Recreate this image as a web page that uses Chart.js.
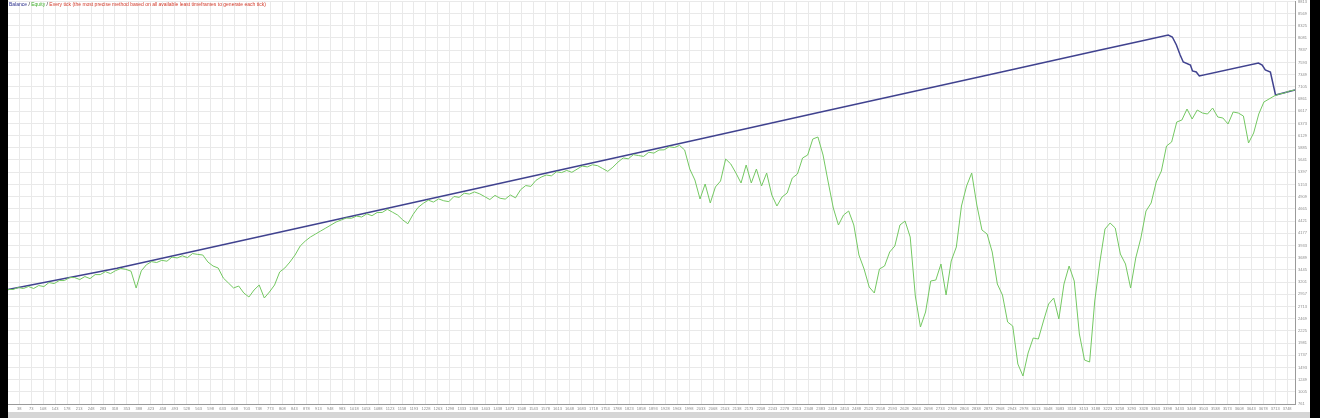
<!DOCTYPE html>
<html>
<head>
<meta charset="utf-8">
<title>Strategy tester graph</title>
<script src="https://cdn.jsdelivr.net/npm/chart.js@4.4.1/dist/chart.umd.min.js"></script>
<style>
    html, body { margin: 0; padding: 0; background: #000; overflow: hidden; }
    #wrap { position: absolute; left: 8px; top: 0; width: 1302px; height: 418px; background: #fff; }
    #strip { position: absolute; left: 0; top: 412px; width: 1302px; height: 6px; background: #d6d6d6; }
    #graph { position: absolute; left: 0; top: 0; }
    #legend { position: absolute; left: 1px; top: 1px; font: 5px "Liberation Sans", Arial, sans-serif; white-space: nowrap; }
    #legend .bal { color: #2b2f8c; }
    #legend .eq { color: #3fae2a; }
    #legend .mod { color: #d23a2a; }
</style>
</head>
<body>
<div id="wrap">
    <canvas id="graph" width="1302" height="412"></canvas>
    <div id="legend"><span class="bal">Balance</span> / <span class="eq">Equity</span> / <span class="mod">Every tick (the most precise method based on all available least timeframes to generate each tick)</span></div>
    <div id="strip"></div>
</div>
<script>
// --- Data ---
// trade numbers shown under the chart
const xTicks = [
    38, 73, 108, 143, 178, 213, 248, 283, 318, 353,
    388, 423, 458, 493, 528, 563, 598, 633, 668, 703,
    738, 773, 808, 843, 878, 913, 948, 983, 1018, 1053,
    1088, 1123, 1158, 1193, 1228, 1263, 1298, 1333, 1368, 1403,
    1438, 1473, 1508, 1543, 1578, 1613, 1648, 1683, 1718, 1753,
    1788, 1823, 1858, 1893, 1928, 1963, 1998, 2033, 2068, 2103,
    2138, 2173, 2208, 2243, 2278, 2313, 2348, 2383, 2418, 2453,
    2488, 2523, 2558, 2593, 2628, 2663, 2698, 2733, 2768, 2803,
    2838, 2873, 2908, 2943, 2978, 3013, 3048, 3083, 3118, 3153,
    3188, 3223, 3258, 3293, 3328, 3363, 3398, 3433, 3468, 3503,
    3538, 3573, 3608, 3643, 3678, 3713, 3748
];

// money levels on the right side
const yTicks = [
    761, 1005, 1249, 1493, 1737, 1981, 2225, 2469, 2713, 2957,
    3201, 3445, 3689, 3933, 4177, 4421, 4665, 4909, 5153, 5397,
    5641, 5885, 6129, 6373, 6617, 6861, 7105, 7349, 7593, 7837,
    8081, 8325, 8569, 8813
];

// balance (closed trades)
const balanceTrades = [5, 324, 1152, 2030, 2367, 2909, 3201, 3318, 3400, 3412, 3424, 3435, 3444, 3465, 3471, 3482, 3491, 3664, 3675, 3684, 3699, 3714, 3771];
const balanceValues = [3051, 3475, 4731, 6063, 6575, 7397, 7839, 8017, 8141, 8101, 7941, 7741, 7601, 7541, 7421, 7401, 7321, 7581, 7541, 7441, 7401, 6941, 7041];

// equity, one reading every 15 trades starting at trade 5
const equityStart = 5;
const equityStep = 15;
const equityValues = [
    3051, 3051, 3091, 3071, 3111, 3071, 3130, 3110, 3190, 3170,
    3230, 3230, 3290, 3290, 3250, 3310, 3269, 3349, 3349, 3409,
    3369, 3429, 3472, 3454, 3417, 3080, 3423, 3546, 3608, 3591,
    3634, 3617, 3699, 3682, 3725, 3688, 3770, 3753, 3741, 3601,
    3521, 3481, 3281, 3181, 3081, 3121, 2981, 2901, 3041, 3141,
    2881, 3001, 3141, 3401, 3481, 3601, 3741, 3921, 4021, 4101,
    4161, 4221, 4281, 4341, 4401, 4441, 4481, 4476, 4519, 4501,
    4564, 4527, 4590, 4592, 4655, 4598, 4541, 4443, 4366, 4549,
    4692, 4774, 4837, 4800, 4863, 4826, 4808, 4911, 4894, 4977,
    4959, 5002, 4965, 4908, 4850, 4933, 4876, 4859, 4941, 4884,
    5047, 5130, 5113, 5235, 5298, 5341, 5324, 5406, 5389, 5432,
    5395, 5457, 5520, 5503, 5546, 5528, 5471, 5414, 5497, 5599,
    5682, 5665, 5748, 5730, 5713, 5796, 5779, 5841, 5844, 5907,
    5890, 5933, 5841, 5461, 5241, 4861, 5161, 4781, 5101, 5221,
    5661, 5561, 5381, 5181, 5541, 5181, 5461, 5121, 5381, 4941,
    4721, 4901, 4981, 5281, 5361, 5681, 5741, 6061, 6101, 5741,
    5201, 4681, 4341, 4541, 4621, 4341, 3741, 3461, 3101, 2981,
    3461, 3521, 3801, 3921, 4341, 4421, 4101, 2921, 2301, 2601,
    3221, 3241, 3561, 2941, 3621, 3901, 4721, 5121, 5381, 4741,
    4241, 4161, 3801, 3161, 2941, 2401, 2321, 1561, 1321, 1781,
    2081, 2061, 2421, 2761, 2881, 2461, 3161, 3521, 3221, 2161,
    1641, 1601, 2821, 3601, 4261, 4381, 4281, 3761, 3561, 3081,
    3681, 4081, 4621, 4781, 5201, 5421, 5921, 6001, 6401, 6441,
    6661, 6461, 6641, 6581, 6561, 6681, 6501, 6481, 6361, 6601,
    6581, 6521, 5981, 6181, 6561, 6801, 6861, 6921, 6961, 6981,
    7021, 7041
];

const xMin = 5, xMax = 3771;
const yMin = 761, yMax = 8821;

document.addEventListener('DOMContentLoaded', function () {

    const balancePoints = balanceTrades.map((t, i) => ({ x: t, y: balanceValues[i] }));
    const equityPoints = equityValues.map((v, i) => ({ x: equityStart + i * equityStep, y: v }));

    const gridColor = '#e9e9e9';
    const axisColor = '#9a9a9a';
    const labelColor = '#8a8a8a';

    new Chart(document.getElementById('graph').getContext('2d'), {
        type: 'line',
        data: {
            datasets: [
                { label: 'Equity', data: equityPoints, borderColor: '#74c862', borderWidth: 1, pointRadius: 0, tension: 0 },
                { label: 'Balance', data: balancePoints, borderColor: '#40428f', borderWidth: 1.5, pointRadius: 0, tension: 0 }
            ]
        },
        options: {
            responsive: false,
            animation: false,
            events: [],
            layout: { padding: { left: 0, right: 0, top: 1, bottom: 0 } },
            plugins: { legend: { display: false }, tooltip: { enabled: false } },
            scales: {
                x: {
                    type: 'linear',
                    min: xMin,
                    max: xMax,
                    afterBuildTicks: s => { s.ticks = xTicks.map(v => ({ value: v })); },
                    afterFit: s => { s.height = 8; s.paddingLeft = 0; s.paddingRight = 0; },
                    grid: { color: gridColor, drawTicks: false },
                    border: { color: axisColor },
                    ticks: { autoSkip: false, maxRotation: 0, minRotation: 0, padding: 2, color: labelColor, font: { size: 4, family: 'Liberation Sans' }, callback: v => v }
                },
                y: {
                    position: 'right',
                    min: yMin,
                    max: yMax,
                    afterBuildTicks: s => { s.ticks = yTicks.map(v => ({ value: v })); },
                    afterFit: s => { s.width = 15; s.paddingTop = 0; s.paddingBottom = 0; },
                    grid: { color: gridColor, drawTicks: false },
                    border: { color: axisColor },
                    ticks: { padding: 3, color: labelColor, font: { size: 4, family: 'Liberation Sans' }, callback: v => v }
                }
            }
        }
    });
});
</script>
</body>
</html>
